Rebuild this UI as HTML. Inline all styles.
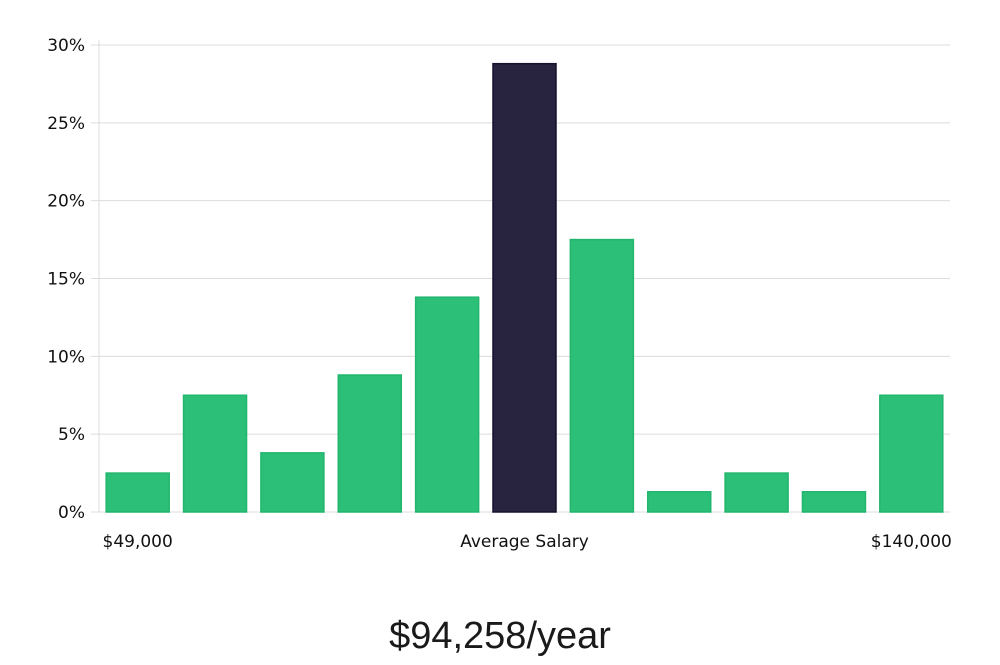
<!DOCTYPE html>
<html><head><meta charset="utf-8"><style>
body{margin:0;background:#fff;width:1000px;height:660px;overflow:hidden}
svg text{font-family:"DejaVu Sans","Liberation Sans",sans-serif}
</style></head><body>
<svg width="1000" height="660" viewBox="0 0 1000 660" xmlns="http://www.w3.org/2000/svg">
<g id="grid"></g>
<g id="bars"></g>
<g id="labels"></g>
<text x="500" y="648" text-anchor="middle" font-size="38" fill="#1a1a1a" style="font-family:'Liberation Sans',sans-serif">$94,258/year</text>
</svg>
<script>
const categories=["b1","b2","b3","b4","b5","b6","b7","b8","b9","b10","b11"];
const values=[2.5,7.5,3.8,8.8,13.8,28.8,17.5,1.3,2.5,1.3,7.5];
const highlightIndex=5;
const yTicks=[0,5,10,15,20,25,30];
const xLabels=["$49,000","Average Salary","$140,000"];
const NS="http://www.w3.org/2000/svg";
const L=99,R=950,T=45,B=512,yMax=30;
const y=v=>B-(v/yMax)*(B-T);
const band=(R-L)/categories.length;
const x=i=>L+i*band;
const bw=63;
function mk(tag,attrs,parent){const e=document.createElementNS(NS,tag);for(const k in attrs)e.setAttribute(k,attrs[k]);parent.appendChild(e);return e;}
const grid=document.getElementById('grid');
yTicks.forEach(t=>{
  const ln=mk('line',{x1:L,x2:R,y1:y(t),y2:y(t),stroke:'#dcdcdc','stroke-width':1},grid);
  
  
  const tk=mk('line',{x1:L-8,x2:L,y1:y(t),y2:y(t),stroke:'#dcdcdc'},grid);
  
  
  const tx=mk('text',{x:L-14,y:y(t)+6,'text-anchor':'end','font-size':17,fill:'#111'},grid);
  tx.textContent=t+'%';
  
  
});
const ax=mk('line',{x1:L,x2:L,y1:40,y2:B,stroke:'#dcdcdc'},grid);


const bars=document.getElementById('bars');
values.forEach((v,i)=>{
  const hl=i===highlightIndex;
  const r=mk('rect',{x:x(i)+(band-bw)/2,y:y(v),width:bw,height:B-y(v),fill:hl?'#28243f':'#2bbf77',stroke:hl?'#15122c':'#22b56d','stroke-width':1.5},bars);
  
  
});
const lab=document.getElementById('labels');
const pos=[[x(0)+band/2,'middle'],[x(highlightIndex)+band/2,'middle'],[x(categories.length-1)+band/2,'middle']];
xLabels.forEach((s,i)=>{
  const t=mk('text',{x:pos[i][0],y:547,'text-anchor':pos[i][1],'font-size':17,fill:'#111'},lab);
  t.textContent=s;
  
  
});
</script>
</body></html>
